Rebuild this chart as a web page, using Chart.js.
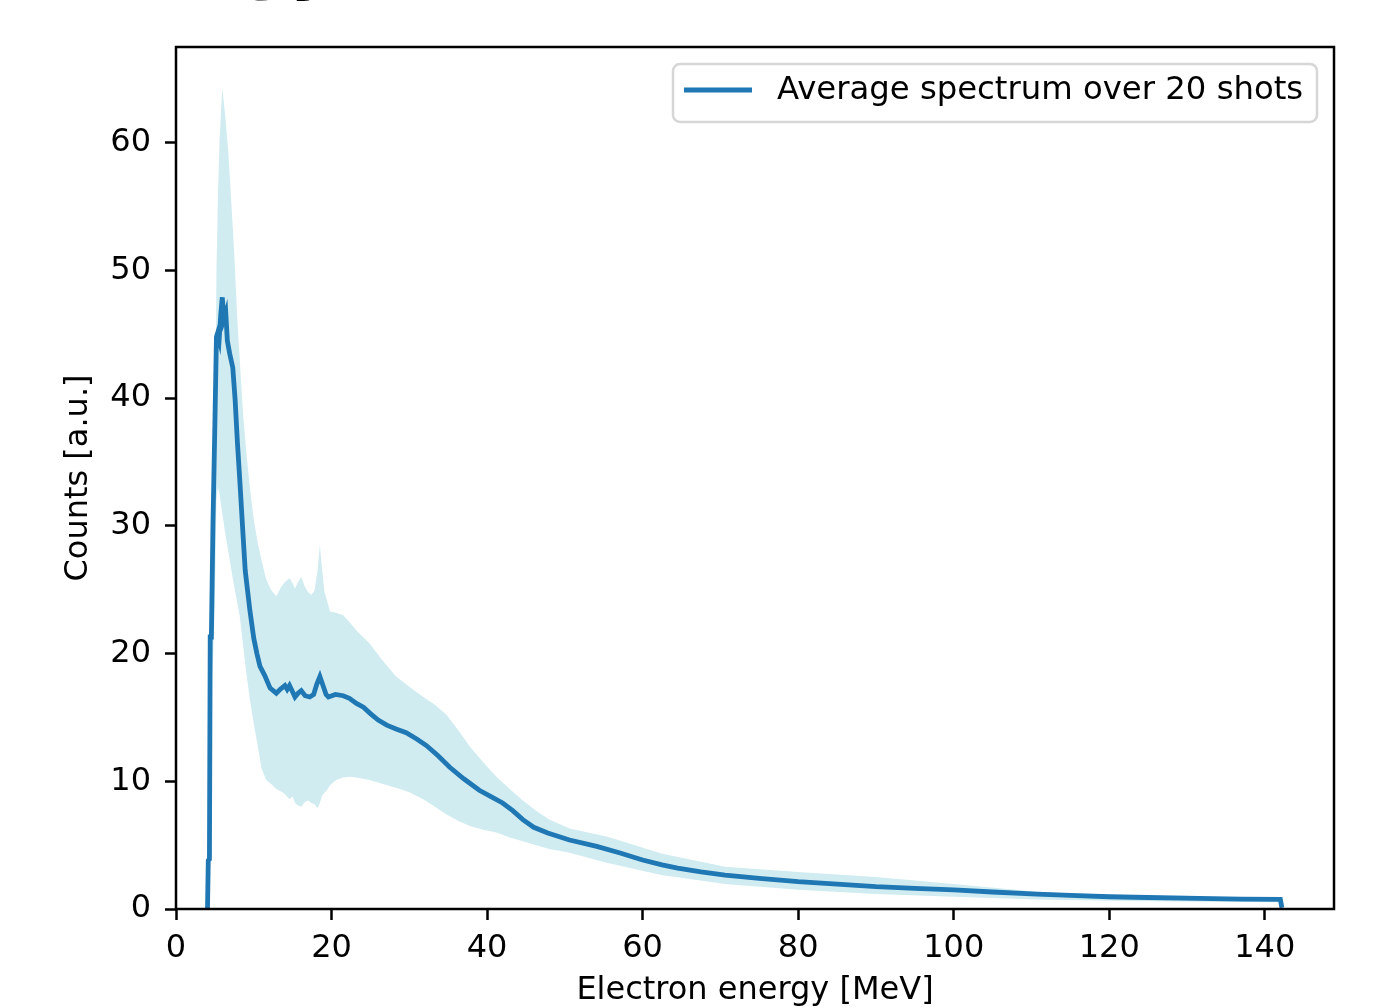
<!DOCTYPE html>
<html>
<head>
<meta charset="utf-8">
<script src="https://cdn.jsdelivr.net/npm/chart.js@4.4.1/dist/chart.umd.min.js"></script>
<style>
    html, body { margin: 0; padding: 0; background: #fff; }
    #wrap { position: relative; width: 1378px; height: 1008px; overflow: hidden; }
</style>
</head>
<body>
<div id="wrap"><canvas id="spectrumChart"></canvas></div>
<script>
// average spectrum (line)
const lineEnergy = [4.05, 4.15, 4.3, 4.4, 4.55, 4.75, 5.0, 5.2, 5.35, 5.55, 5.75, 5.95, 6.15, 6.4, 6.6, 6.9, 7.3, 7.6, 7.9, 8.2, 8.6, 8.9, 9.5, 10.0, 10.4, 10.8, 11.4, 12.1, 12.9, 13.4, 14.0, 14.3, 14.6, 15.0, 15.3, 15.7, 16.1, 16.6, 17.2, 17.7, 18.1, 18.5, 18.9, 19.3, 19.6, 20.5, 21.5, 22.3, 23.2, 24.1, 25.0, 26.0, 27.1, 28.3, 29.6, 31.0, 32.2, 33.7, 35.2, 37.0, 39.0, 40.5, 42.0, 43.3, 44.6, 46.0, 47.8, 50.6, 54.1, 57.0, 60, 62.5, 64.5, 67.5, 70.6, 75, 80, 85, 90, 95, 100, 105, 110.7, 115, 120, 125, 131.5, 137, 142, 142.2];
const lineCounts = [0, 3.8, 3.9, 21.3, 21.3, 30, 38, 44.8, 45.1, 44.6, 46.5, 47.9, 46.2, 46.7, 44.5, 43.5, 42.4, 39.9, 36.5, 33.6, 29.5, 26.5, 23.4, 21.2, 20.0, 19.0, 18.3, 17.3, 16.9, 17.2, 17.5, 17.2, 17.5, 17.0, 16.6, 16.9, 17.1, 16.7, 16.6, 16.8, 17.6, 18.2, 17.5, 16.8, 16.6, 16.8, 16.7, 16.5, 16.1, 15.8, 15.3, 14.8, 14.4, 14.1, 13.8, 13.3, 12.8, 12.0, 11.1, 10.2, 9.3, 8.8, 8.3, 7.7, 7.0, 6.4, 5.95, 5.4, 4.9, 4.4, 3.84, 3.45, 3.2, 2.9, 2.66, 2.4, 2.14, 1.95, 1.75, 1.62, 1.5, 1.33, 1.17, 1.06, 0.96, 0.9, 0.83, 0.78, 0.75, 0.1];

// shot-to-shot spread (band)
const bandEnergy = [4.05, 4.3, 4.5, 4.8, 5.0, 5.2, 5.4, 5.6, 5.95, 6.3, 6.7, 7.1, 7.5, 7.9, 8.2, 8.6, 9.0, 9.5, 10.0, 10.5, 11.0, 11.6, 12.2, 12.9, 13.5, 14.0, 14.6, 15.0, 15.3, 15.7, 16.1, 16.6, 17.0, 17.4, 17.8, 18.2, 18.5, 18.8, 19.1, 19.4, 19.8, 20.6, 21.5, 22.4, 23.2, 24.9, 26.5, 28.3, 30.0, 31.8, 33.3, 34.8, 36.3, 37.8, 39.5, 41.2, 42.9, 44.6, 46.3, 48.0, 50.6, 55.5, 62.4, 70.6, 80, 90, 100, 110.7, 120, 131.5, 142, 142.2];
const bandUpper = [0, 6, 23, 27, 33, 50, 56, 60.2, 64.3, 62.3, 59.5, 55.5, 51.2, 46, 43, 39, 36, 33, 30.5, 28.7, 27.3, 25.8, 25.0, 24.5, 25.2, 25.6, 25.9, 25.5, 25.1, 25.6, 26.0, 25.2, 24.8, 24.6, 24.9, 26.5, 28.5, 26.5, 24.8, 24.2, 23.3, 23.2, 23.0, 22.4, 21.8, 20.8, 19.5, 18.2, 17.4, 16.6, 16.0, 15.2, 14.0, 12.7, 11.5, 10.35, 9.4, 8.5, 7.7, 7.0, 6.3, 5.66, 4.35, 3.3, 2.9, 2.5, 1.95, 1.35, 1.1, 0.96, 0.9, 0];
const bandLower = [0, 3, 17, 20, 24, 32, 33, 32.5, 31, 29.5, 28.1, 26.6, 25.2, 23.9, 22.9, 20.8, 18.7, 16.4, 14.5, 12.8, 11.0, 10.1, 9.8, 9.4, 9.2, 9.0, 8.6, 8.8, 8.3, 8.1, 8.0, 8.4, 8.5, 8.3, 8.2, 7.9, 8.3, 8.9, 9.1, 9.3, 9.7, 10.1, 10.3, 10.35, 10.3, 10.1, 9.8, 9.5, 9.15, 8.6, 8.0, 7.4, 6.9, 6.5, 6.2, 6.0, 5.6, 5.3, 5.0, 4.7, 4.4, 3.6, 2.66, 1.95, 1.5, 1.17, 0.96, 0.75, 0.65, 0.56, 0.52, 0];

const xTicks = [0, 20, 40, 60, 80, 100, 120, 140];
const yTicks = [0, 10, 20, 30, 40, 50, 60];

const toPoints = (xs, ys) => xs.map((x, i) => ({ x: x, y: ys[i] }));

Chart.defaults.font.family = "'DejaVu Sans', sans-serif";
Chart.defaults.font.size = 32;
Chart.defaults.color = '#000';

// matplotlib style box round the axes
const framePlugin = {
    id: 'frame',
    afterDatasetsDraw(chart) {
        const { ctx, chartArea: a } = chart;
        ctx.save();
        ctx.strokeStyle = '#000';
        ctx.lineWidth = 2.5;
        ctx.strokeRect(a.left, a.top, a.right - a.left, a.bottom - a.top);
        ctx.restore();
    }
};

const legendBox = {
    id: 'legendBox',
    afterDraw(chart) {
        const ds = chart.data.datasets[0];
        const { ctx } = chart;
        ctx.save();
        ctx.fillStyle = 'rgba(255,255,255,0.8)';
        ctx.strokeStyle = '#d6d6d6';
        ctx.lineWidth = 2.5;
        ctx.beginPath();
        ctx.roundRect(673, 64, 644, 58, 7);
        ctx.fill();
        ctx.stroke();
        ctx.strokeStyle = ds.borderColor;
        ctx.lineWidth = ds.borderWidth;
        ctx.beginPath();
        ctx.moveTo(684, 90);
        ctx.lineTo(752, 90);
        ctx.stroke();
        ctx.fillStyle = '#000';
        ctx.font = "32.3px 'DejaVu Sans'";
        ctx.textBaseline = 'middle';
        ctx.fillText(ds.label, 777, 91);
        ctx.restore();
    }
};

// figure title, almost entirely above the crop
const cutTitle = {
    id: 'cutTitle',
    afterDraw(chart) {
        const { ctx } = chart;
        ctx.save();
        ctx.fillStyle = '#000';
        ctx.font = "bold 70px 'DejaVu Sans'";
        ctx.textBaseline = 'alphabetic';
        ctx.fillText('Energy spectrum', 60, -14);
        ctx.restore();
    }
};

new Chart(document.getElementById('spectrumChart'), {
    type: 'line',
    data: {
        datasets: [
            {
                label: 'Average spectrum over 20 shots',
                data: toPoints(lineEnergy, lineCounts),
                borderColor: '#1f77b4',
                borderWidth: 4.8,
                pointRadius: 0,
                tension: 0,
                fill: false
            },
            {
                label: 'upper',
                data: toPoints(bandEnergy, bandUpper),
                borderWidth: 0,
                borderColor: 'rgba(0,0,0,0)',
                backgroundColor: '#d0ecf1',
                pointRadius: 0,
                fill: 2
            },
            {
                label: 'lower',
                data: toPoints(bandEnergy, bandLower),
                borderWidth: 0,
                borderColor: 'rgba(0,0,0,0)',
                pointRadius: 0,
                fill: false
            }
        ]
    },
    options: {
        responsive: true,
        maintainAspectRatio: false,
        animation: false,
        layout: { padding: { top: 47, right: 44, left: 0, bottom: 0 } },
        plugins: {
            legend: { display: false },
            tooltip: { enabled: false }
        },
        scales: {
            x: {
                type: 'linear',
                min: 0,
                max: 148.9,
                afterBuildTicks: axis => { axis.ticks = xTicks.map(v => ({ value: v })); },
                afterFit: axis => { axis.height = 99; },
                ticks: { padding: 9, maxRotation: 0, autoSkip: false },
                grid: { drawOnChartArea: false, drawTicks: true, tickLength: 11, tickWidth: 2.5, color: '#000' },
                border: { display: false },
                title: { display: true, text: 'Electron energy [MeV]', padding: { top: 0, bottom: -2 }, font: { size: 32 } }
            },
            y: {
                type: 'linear',
                min: 0,
                max: 67.5,
                afterBuildTicks: axis => { axis.ticks = yTicks.map(v => ({ value: v })); },
                afterFit: axis => { axis.width = 176; },
                ticks: { padding: 14, autoSkip: false },
                grid: { drawOnChartArea: false, drawTicks: true, tickLength: 11, tickWidth: 2.5, color: '#000' },
                border: { display: false },
                title: { display: true, text: 'Counts [a.u.]', padding: { top: 59, bottom: 0 }, font: { size: 32 } }
            }
        }
    },
    plugins: [framePlugin, legendBox, cutTitle]
});
</script>
</body>
</html>
